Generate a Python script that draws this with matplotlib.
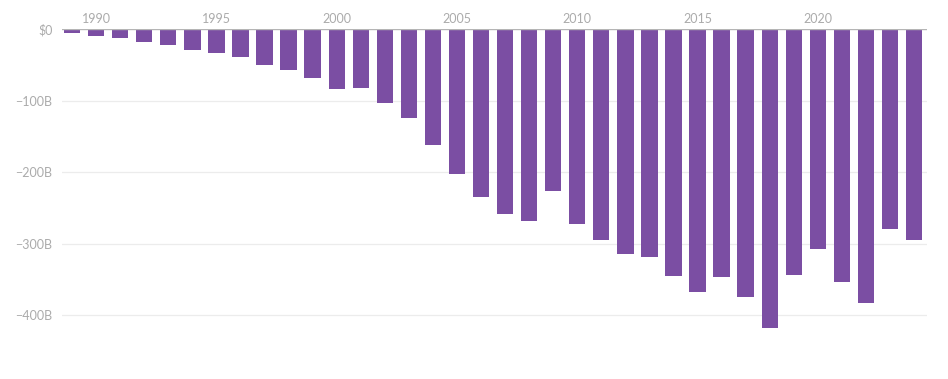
import matplotlib
matplotlib.use("Agg")
import matplotlib.pyplot as plt

years = list(range(1989, 2025))
values = [-6.2, -10.4, -12.7, -18.3, -22.8, -29.5, -33.8, -39.5, -49.7, -56.9,
          -68.7, -83.8, -83.1, -103.1, -124.1, -162.3, -202.3, -234.1, -258.5, -268.0,
          -226.9, -273.0, -295.2, -315.1, -318.7, -344.8, -367.3, -346.8, -375.2, -418.2,
          -344.3, -308.0, -353.5, -382.3, -279.1, -295.4]
xticks = [1990, 1995, 2000, 2005, 2010, 2015, 2020]
yticks = [0, -100, -200, -300, -400]
ylabels = ["$0", "\u2212100B", "\u2212200B", "\u2212300B", "\u2212400B"]

plt.rcParams['font.family'] = ['Lato', 'DejaVu Sans']
fig = plt.figure(figsize=(9.48, 3.79), dpi=100)
ax = fig.add_axes([62/948, 19/379, (927-62)/948, (360-29)/379])
ax.bar(years, values, width=0.68, color="#7b4ea3", zorder=3)
ax.set_xlim(1988.58, 2024.54)
ax.set_ylim(-462.6, 0)
ax.set_yticks(yticks)
ax.set_yticklabels(ylabels)
ax.set_xticks(xticks)
ax.xaxis.tick_top()
ax.tick_params(axis='both', length=0, colors="#ababab", labelsize=9)
ax.tick_params(axis='x', pad=3)
ax.tick_params(axis='y', pad=7)
for s in ax.spines.values():
    s.set_visible(False)
for y in yticks[1:]:
    ax.axhline(y, color="#ececec", lw=0.9, zorder=1)
ax.axhline(0, color="#b5b5b5", lw=1.0, zorder=4)
fig.savefig("out.png", dpi=100, facecolor="white")
